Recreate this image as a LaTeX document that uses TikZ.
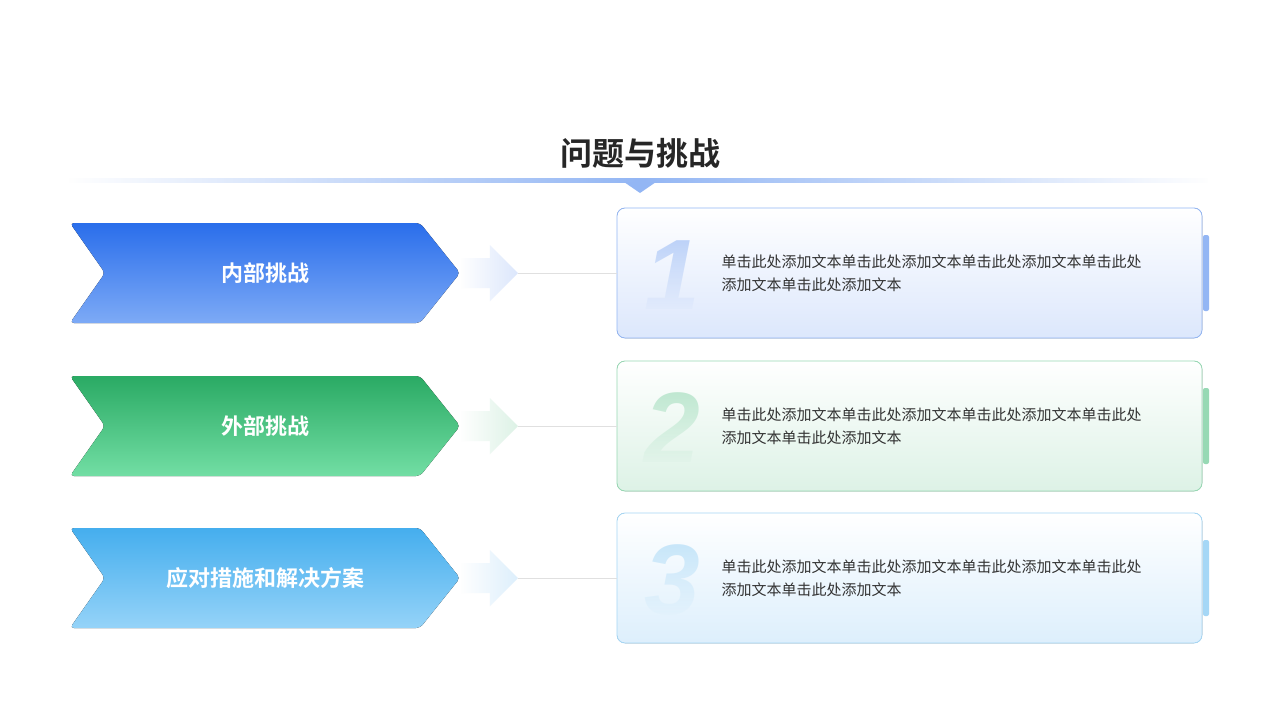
\documentclass[tikz,border=0pt]{standalone}
\usepackage{fontspec}
\newfontfamily\cjk{Noto Sans CJK SC}
\newfontfamily\cjkb{Noto Sans CJK SC Bold}
\newfontfamily\numf{Liberation Sans}
\usetikzlibrary{fadings}
\definecolor{bA}{HTML}{2A6EEB}\definecolor{bB}{HTML}{7DAAF6}
\definecolor{gA}{HTML}{2AAA64}\definecolor{gB}{HTML}{72DEA4}
\definecolor{cA}{HTML}{45AEEE}\definecolor{cB}{HTML}{95D3F8}
\definecolor{bL}{HTML}{DCE7FC}\definecolor{gL}{HTML}{DDF2E6}\definecolor{cL}{HTML}{DDEFFC}
\definecolor{bM}{HTML}{93B6F4}\definecolor{gM}{HTML}{97D9B4}\definecolor{cM}{HTML}{A5D7F6}
\tikzfading[name=fadeRight,left color=transparent!0,right color=transparent!100]
\tikzfading[name=fadeLR,left color=transparent!100,right color=transparent!100,middle color=transparent!0]
\tikzfading[name=fadeDown,top color=transparent!0,bottom color=transparent!100]
\tikzset{lbl/.style={font=\cjkb\fontsize{22}{26}\selectfont,text=white},
 body/.style={font=\cjk\fontsize{15}{23}\selectfont,text=black!80,align=left,anchor=west},
 num/.style={font=\numf\bfseries\itshape\fontsize{100}{100}\selectfont}}
\begin{document}
\begin{tikzpicture}[x=1pt,y=-1pt]
\useasboundingbox[fill=white] (0,0) rectangle (1280,720);
\fill[left color=white,middle color=bL,right color=white] (70,118) rectangle (1210,182);
\fill[bM,path fading=fadeLR] (70,178) rectangle (1210,183);
\fill[bM] (624,182) -- (656,182) -- (640,193) -- cycle;
\node[font=\cjkb\fontsize{32}{36}\selectfont,text=black!85] (title) at (640,153) {问题与挑战};
\foreach \y/\ca/\cb/\cl/\cm/\n/\t in {273/bA/bB/bL/bM/1/内部挑战,426/gA/gB/gL/gM/2/外部挑战,578/cA/cB/cL/cM/3/应对措施和解决方案}{
 \fill[rounded corners=4pt,top color=\ca,bottom color=\cb] (70,\y-50) -- (420,\y-50) -- (460,\y) -- (420,\y+50) -- (70,\y+50) -- (105,\y) -- cycle;
 \node[lbl] (l\n) at (265,\y) {\t};
 \fill[\cl,path fading=fadeRight,fading angle=180] (460,\y-15) -- (490,\y-15) -- (490,\y-28) -- (518,\y) -- (490,\y+28) -- (490,\y+15) -- (460,\y+15) -- cycle;
 \coordinate (a\n) at (518,\y);
 \fill[rounded corners=8pt,top color=white,bottom color=\cl,draw=\cm,line width=0.8pt] (617,\y-65) rectangle (1202,\y+65);
 \coordinate (c\n) at (617,\y);
 \draw[black!12] (a\n) -- (c\n);
 \fill[\cm,rounded corners=2pt] (1203,\y-38) rectangle (1209,\y+38);
 \node[num,text=\cm,opacity=0.6,scope fading=fadeDown,fit fading=true] (n\n) at (672,\y+2) {\n};
 \node[body] (t\n) at (718,\y) {单击此处添加文本单击此处添加文本单击此处添加文本单击此处\\添加文本单击此处添加文本};
}
\end{tikzpicture}
\end{document}
